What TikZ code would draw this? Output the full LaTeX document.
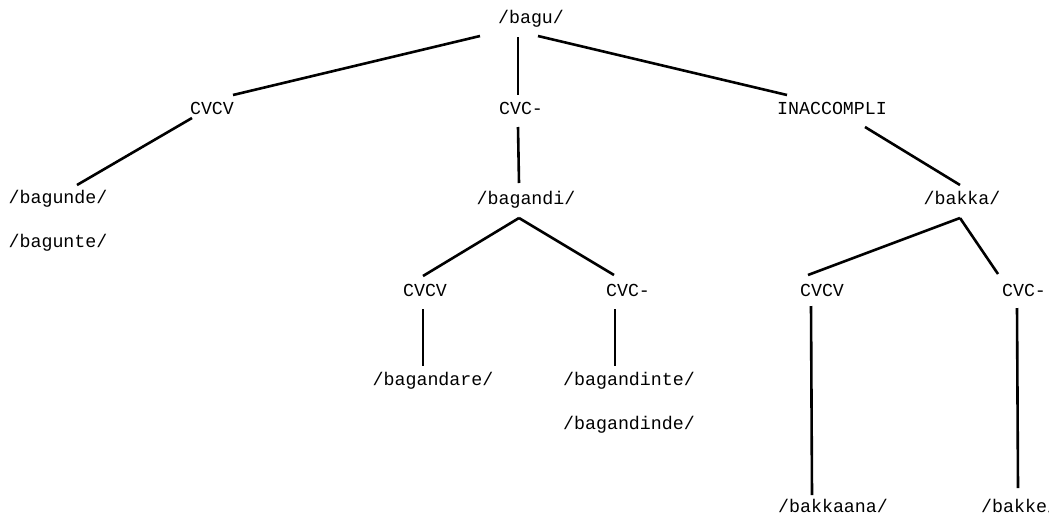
\documentclass[tikz,border=0pt]{standalone}
\usepackage{fontspec}
\setmonofont{Liberation Mono}
\usetikzlibrary{calc}

\begin{document}
\begin{tikzpicture}
[   x=1pt, y=-1pt,
    word/.style={anchor=base, inner sep=0pt, font=\ttfamily\fontsize{18.3}{22}\selectfont},
    branch/.style={line width=2.6pt},
]
\useasboundingbox (0,0) rectangle (1049,517);

\node[word] (bagu) at (531,23) {/bagu/};

\node[word] (cvcvA) at (212,114) {CVCV};
\node[word] (cvcA) at (521,114) {CVC-};
\node[word] (inacc) at (832,114) {INACCOMPLI};

\node[word] (bagunde) at (58,203) {/bagunde/};
\node[word] (bagunte) at (58,247) {/bagunte/};
\node[word] (bagandi) at (526,204) {/bagandi/};
\node[word] (bakka) at (962,204) {/bakka/};

\node[word] (cvcvB) at (425,296) {CVCV};
\node[word] (cvcB) at (628,296) {CVC-};
\node[word] (cvcvC) at (822,296) {CVCV};
\node[word] (cvcC) at (1024,296) {CVC-};

\node[word] (bagandare) at (433,385) {/bagandare/};
\node[word] (bagandinte) at (629,385) {/bagandinte/};
\node[word] (bagandinde) at (629,429) {/bagandinde/};
\node[word] (bakkaana) at (833,512) {/bakkaana/};
\node[word, anchor=base west] (bakke) at (981,512) {/bakke/};


\draw[branch] ($(bagu.base)+(-51,13)$) -- ($(cvcvA.base)+(21,-19)$);
\draw[branch] ($(bagu.base)+(-13,14)$) -- ($(cvcA.base)+(-3,-19)$);
\draw[branch] ($(bagu.base)+(7,13)$) -- ($(inacc.base)+(-45,-19)$);

\draw[branch] ($(cvcvA.base)+(-20,4)$) -- ($(bagunde.base)+(19,-18)$);
\draw[branch] ($(cvcA.base)+(-3,13)$) -- ($(bagandi.base)+(-7,-21)$);
\draw[branch] ($(inacc.base)+(33,13)$) -- ($(bakka.base)+(-2,-19)$);

\draw[branch] ($(bagandi.base)+(-7,14)$) -- ($(cvcvB.base)+(-2,-20)$);
\draw[branch] ($(bagandi.base)+(-7,14)$) -- ($(cvcB.base)+(-14,-21)$);
\draw[branch] ($(bakka.base)+(-2,14)$) -- ($(cvcvC.base)+(-14,-21)$);
\draw[branch] ($(bakka.base)+(-2,14)$) -- ($(cvcC.base)+(-26,-22)$);

\draw[branch] ($(cvcvB.base)+(-2,13)$) -- ($(bagandare.base)+(-10,-19)$);
\draw[branch] ($(cvcB.base)+(-13,13)$) -- ($(bagandinte.base)+(-14,-19)$);
\draw[branch] ($(cvcvC.base)+(-11,10)$) -- ($(bakkaana.base)+(-21,-17)$);
\draw[branch] ($(cvcC.base)+(-7,12)$) -- ($(bakke.base west)+(37,-24)$);

\end{tikzpicture}
\end{document}
